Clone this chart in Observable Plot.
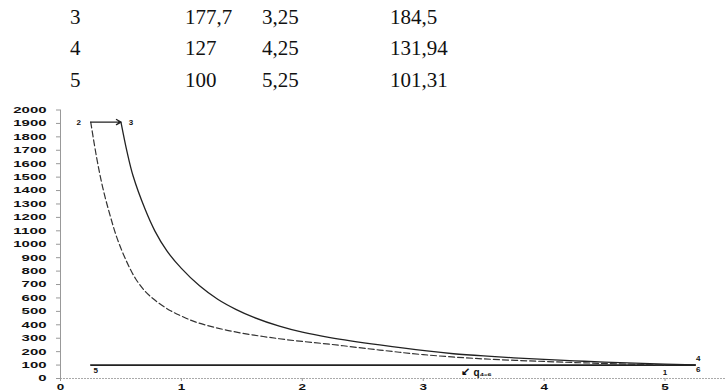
<!DOCTYPE html>
<html>
<head>
<meta charset="utf-8">
<script src="https://cdn.jsdelivr.net/npm/d3@7"></script>
<script src="https://cdn.jsdelivr.net/npm/@observablehq/plot@0.6"></script>
<style>
  html, body { margin: 0; padding: 0; background: #fff; }
  #wrap { position: relative; width: 725px; height: 392px; overflow: hidden; }
  #table { font-family: 'Liberation Serif', 'DejaVu Serif', serif; }
  .cell { position: absolute; font-size: 21px; color: #111; line-height: 1; transform: translateY(-50%); white-space: nowrap; }
  #chart { position: absolute; left: 0; top: 100px; }
</style>
</head>
<body>
<div id="wrap">
  <div id="table"></div>
  <div id="chart"></div>
</div>
<script>
// Table rows (top of the page)
const rowNo   = [3, 4, 5];
const colB    = [177.7, 127, 100];
const colC    = [3.25, 4.25, 5.25];
const colD    = [184.5, 131.94, 101.31];

// Solid curve 3-4 (table points included)
const solidX = [0.5, 0.55, 0.6, 0.7, 0.78, 0.88, 1.0, 1.15, 1.3, 1.45, 1.6, 1.81, 2.0, 2.23, 2.64, 3.03, 3.25, 3.5, 4, 4.25, 4.5, 5, 5.25];
const solidY = [1910, 1690, 1510, 1260, 1100, 950, 820, 690, 590, 515, 455, 390, 345, 305, 250, 205, 184.5, 168, 142, 131.94, 122, 107, 101.31];

// Dashed curve 2-1 (table points included)
const dashX = [0.25, 0.3, 0.35, 0.41, 0.47, 0.55, 0.62, 0.7, 0.8, 0.91, 1.0, 1.12, 1.4, 1.81, 2.23, 2.64, 3, 3.46, 4, 4.5, 5];
const dashY = [1910, 1640, 1420, 1215, 1040, 865, 745, 650, 570, 505, 465, 420, 355, 296, 255, 212, 177.7, 148, 127, 112, 100];

// Straight segments
const topX = [0.25, 0.5];   const topY = [1910, 1910];   // 2 -> 3
const botX = [0.25, 5.25];  const botY = [100, 100];     // 5 -> 6

// Point labels
const labelText = ["2", "3", "5", "1", "4", "6"];
const labelX    = [0.25, 0.5, 0.25, 5, 5.25, 5.25];
const labelY    = [1910, 1910, 100, 100, 101.31, 100];

// Heat annotation
const qText = ["q₄₋₆"];
const qX = [3.3]; const qY = [100];

// Axis ticks
const yTicks = d3.range(0, 2001, 100);
const xTicks = [0, 1, 2, 3, 4, 5];

const fmt = v => String(v).replace(".", ",");

// Build table
const tbl = document.getElementById("table");
const colLeft = [70, 185, 262, 390];
const rowTop = [17, 48, 80];
rowNo.forEach((r, i) => {
  [r, colB[i], colC[i], colD[i]].forEach((v, j) => {
    const d = document.createElement("div");
    d.className = "cell";
    d.style.left = colLeft[j] + "px";
    d.style.top = rowTop[i] + "px";
    d.style.fontFamily = "'Liberation Serif', 'DejaVu Serif', serif";
    d.textContent = fmt(v);
    tbl.appendChild(d);
  });
});

const solid = solidX.map((x, i) => ({x, y: solidY[i]}));
const dash = dashX.map((x, i) => ({x, y: dashY[i]}));
const topSeg = [{x1: topX[0], y1: topY[0], x2: topX[1], y2: topY[1]}];
const botSeg = botX.map((x, i) => ({x, y: botY[i]}));
const labels = labelText.map((t, i) => ({t, x: labelX[i], y: labelY[i]}));
const qLab = qText.map((t, i) => ({t, x: qX[i], y: qY[i]}));

const labStyle = {fontFamily: "Liberation Sans, Arial, sans-serif", fontWeight: "bold", fontSize: 8, fill: "#111"};

const chart = Plot.plot({
  width: 725,
  height: 292,
  marginTop: 9.5,
  marginBottom: 14,
  marginLeft: 60,
  marginRight: 0,
  style: {fontFamily: "Liberation Sans, Arial, sans-serif", fontWeight: "bold", fontSize: "9px", color: "#111", background: "white"},
  x: {domain: [0, 5.5]},
  y: {domain: [0, 2000]},
  marks: [
    Plot.ruleX([0], {stroke: "#999", strokeWidth: 1}),
    Plot.ruleY([0], {stroke: "#aaa", strokeWidth: 1, strokeDasharray: "2,1"}),
    Plot.axisY(yTicks, {tickSize: 4, tickPadding: 10, stroke: "#999", label: null, tickFormat: d => String(d)}),
    Plot.axisX(xTicks, {tickSize: 3, tickPadding: 2, stroke: "#999", label: null, tickFormat: d => String(d)}),
    Plot.line(botSeg, {x: "x", y: "y", stroke: "#222", strokeWidth: 1.6}),
    Plot.line(dash, {x: "x", y: "y", stroke: "#333", strokeWidth: 1.2, strokeDasharray: "6,3", curve: "catmull-rom"}),
    Plot.line(solid, {x: "x", y: "y", stroke: "#222", strokeWidth: 1.3, curve: "catmull-rom"}),
    Plot.arrow(topSeg, {x1: "x1", y1: "y1", x2: "x2", y2: "y2", stroke: "#222", strokeWidth: 1.3, headLength: 6}),
    Plot.text(labels.filter(d => d.t === "2"), {x: "x", y: "y", text: "t", dx: -12, ...labStyle}),
    Plot.text(labels.filter(d => d.t === "3"), {x: "x", y: "y", text: "t", dx: 10, ...labStyle}),
    Plot.text(labels.filter(d => d.t === "5"), {x: "x", y: "y", text: "t", dx: 5, dy: 5, ...labStyle}),
    Plot.text(labels.filter(d => d.t === "1"), {x: "x", y: "y", text: "t", dx: 0, dy: 7, ...labStyle}),
    Plot.text(labels.filter(d => d.t === "4"), {x: "x", y: "y", text: "t", dx: 3, dy: -6, ...labStyle}),
    Plot.text(labels.filter(d => d.t === "6"), {x: "x", y: "y", text: "t", dx: 3, dy: 4, ...labStyle}),
    Plot.text(qLab, {x: "x", y: "y", text: "t", dx: 14, dy: 8, textAnchor: "start", ...labStyle, fontSize: 10}),
    Plot.text(qLab, {x: "x", y: "y", text: () => "↙", dx: 6, dy: 6, ...labStyle, fontSize: 11})
  ]
});
document.getElementById("chart").appendChild(chart);

// Stretch tick labels horizontally like the scanned original
chart.querySelectorAll('g[aria-label="y-axis tick label"] text').forEach(t => {
  t.setAttribute("textLength", 8.3 * t.textContent.length);
  t.setAttribute("lengthAdjust", "spacingAndGlyphs");
});
chart.querySelectorAll('g[aria-label="x-axis tick label"] text').forEach(t => {
  t.setAttribute("textLength", 7.5 * t.textContent.length);
  t.setAttribute("lengthAdjust", "spacingAndGlyphs");
});
</script>
</body>
</html>
